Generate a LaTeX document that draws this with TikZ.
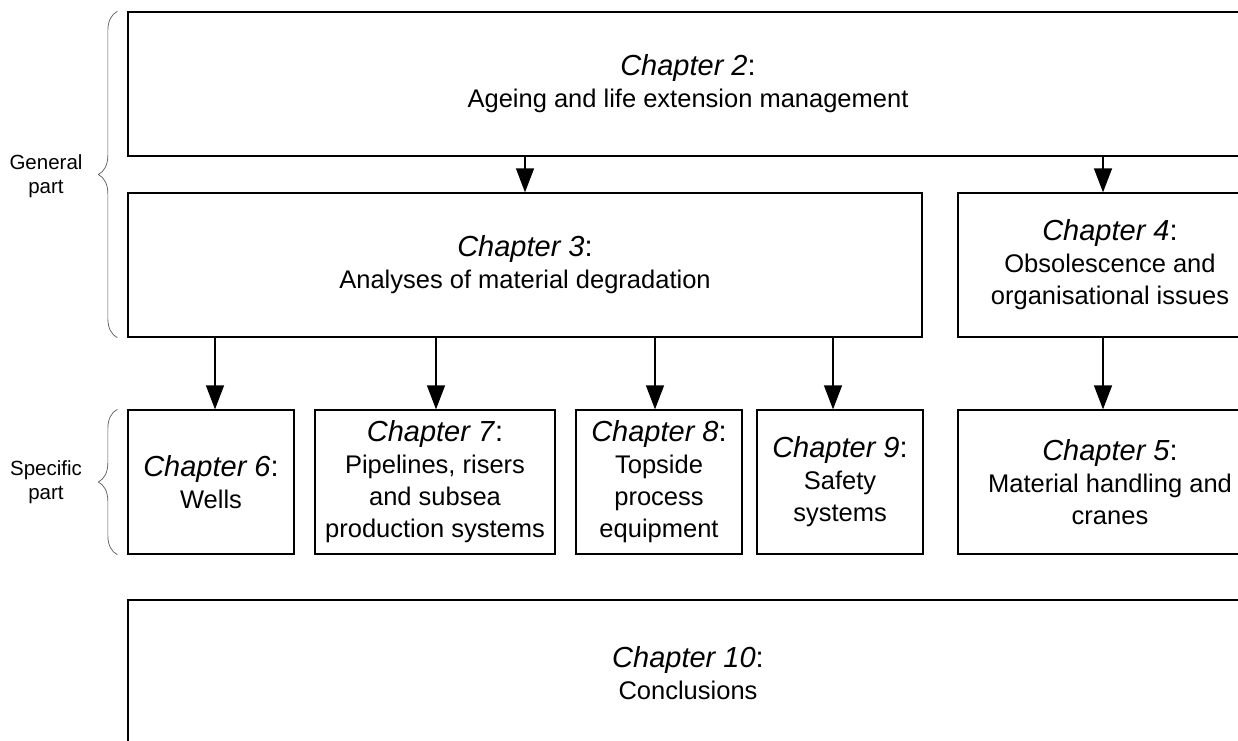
\documentclass[tikz,border=0pt]{standalone}
\usepackage{fontspec}
\setmainfont{Liberation Sans}
\usetikzlibrary{arrows.meta,decorations.pathreplacing}
\newcommand\chap[1]{{\fontsize{29}{32}\selectfont\textit{Chapter #1}:}}
\begin{document}
\begin{tikzpicture}[x=1pt,y=-1pt,
  box/.style={draw,line width=1.3pt,rectangle,inner sep=0pt,align=center,
    font=\fontsize{25.5}{32}\selectfont},
  arr/.style={line width=1.3pt,-{Triangle[length=24pt,width=18pt]}},
  brc/.style={decorate,decoration={brace,amplitude=19pt,aspect=0.5},
    line width=0.7pt,draw=black!65},
  lbl/.style={align=center,font=\fontsize{20.5}{24}\selectfont}]
\clip (0,0) rectangle (1238,740);

% general chapters
\node[box,minimum width=1120pt,minimum height=144pt] (c2) at (688,84)
  {\chap{2}\\Ageing and life extension management};
\node[box,minimum width=794pt,minimum height=144pt] (c3) at (525,265)
  {\chap{3}\\Analyses of material degradation};
\node[box,minimum width=304pt,minimum height=144pt] (c4) at (1110,265)
  {\chap{4}\\Obsolescence and\\organisational issues};

% specific chapters
\node[box,minimum width=166pt,minimum height=144pt] (c6) at (211,482)
  {\chap{6}\\Wells};
\node[box,minimum width=240pt,minimum height=144pt] (c7) at (435,482)
  {\chap{7}\\Pipelines, risers\\and subsea\\production systems};
\node[box,minimum width=166pt,minimum height=144pt] (c8) at (659,482)
  {\chap{8}\\Topside\\process\\equipment};
\node[box,minimum width=166pt,minimum height=144pt] (c9) at (840,482)
  {\chap{9}\\Safety\\systems};
\node[box,minimum width=304pt,minimum height=144pt] (c5) at (1110,482)
  {\chap{5}\\Material handling and\\cranes};

% conclusions
\node[box,minimum width=1120pt,minimum height=146pt] (c10) at (688,673)
  {\chap{10}\\Conclusions};

% arrows
\draw[arr] (c2.south -| c3.north) -- (c3.north);
\draw[arr] ([xshift=-7pt]c4.north |- c2.south) -- ([xshift=-7pt]c4.north);
\draw[arr] ([xshift=4pt]c6.north |- c3.south) -- ([xshift=4pt]c6.north);
\draw[arr] ([xshift=1pt]c7.north |- c3.south) -- ([xshift=1pt]c7.north);
\draw[arr] ([xshift=-4pt]c8.north |- c3.south) -- ([xshift=-4pt]c8.north);
\draw[arr] ([xshift=-7pt]c9.north |- c3.south) -- ([xshift=-7pt]c9.north);
\draw[arr] ([xshift=-7pt]c4.south) -- ([xshift=-7pt]c5.north);

% part braces and labels
\draw[brc] ([xshift=-10pt]c3.south west) -- ([xshift=-10pt]c2.north west);
\draw[brc] ([xshift=-10pt]c6.south west) -- ([xshift=-10pt]c6.north west);
\node[lbl] (gen) at (46,176) {General\\part};
\node[lbl] (spec) at (46,482) {Specific\\part};
\end{tikzpicture}
\end{document}
